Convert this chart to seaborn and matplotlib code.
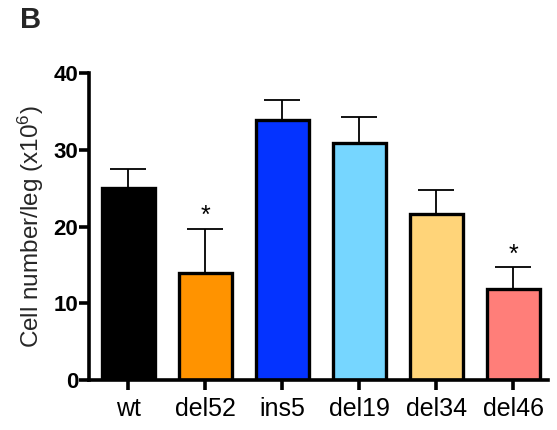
import numpy as np
import pandas as pd
import matplotlib
matplotlib.use("Agg")
import matplotlib.pyplot as plt
import seaborn as sns

# data
grupos = ["wt", "del52", "ins5", "del19", "del34", "del46"]
medias = [25.0, 13.9, 33.9, 30.9, 21.6, 11.9]
errores = [2.5, 5.8, 2.6, 3.4, 3.2, 2.8]
significativo = [False, True, False, False, False, True]
colores = ["#000000", "#FF9300", "#0433FF", "#76D6FF", "#FFD479", "#FF7E79"]

sns.set_style("ticks")
plt.rcParams["font.family"] = ["Liberation Sans", "DejaVu Sans"]
plt.rcParams["mathtext.default"] = "regular"

df = pd.DataFrame({"grupo": grupos, "media": medias})

fig = plt.figure(figsize=(5.57, 4.30), dpi=100)
ax = fig.add_axes([0.16, 0.116, 0.824, 0.714])

sns.barplot(data=df, x="grupo", y="media", hue="grupo", palette=colores,
            order=grupos, hue_order=grupos, legend=False, width=0.68,
            edgecolor="black", linewidth=2.4, saturation=1, ax=ax)

x = np.arange(len(grupos))
ax.errorbar(x, medias, yerr=[np.zeros(len(errores)), errores], fmt="none",
            ecolor="black", elinewidth=1.3, capsize=13, capthick=1.3, zorder=1)

for i, (m, e, s) in enumerate(zip(medias, errores, significativo)):
    if s:
        ax.text(i, m + e + 0.1, "*", ha="center", va="bottom",
                fontsize=18, color="black")

ax.set_xlim(-0.51, 5.45)
ax.set_ylim(0, 40)
ax.set_yticks([0, 10, 20, 30, 40])
ax.set_xlabel("")
ax.set_ylabel("Cell number/leg (x10$^{6}$)", fontsize=17.5, labelpad=5)

for lado in ["top", "right"]:
    ax.spines[lado].set_visible(False)
for lado in ["left", "bottom"]:
    ax.spines[lado].set_linewidth(2.6)
    ax.spines[lado].set_color("black")

ax.tick_params(axis="y", length=7, width=2.6, labelsize=16, pad=1, colors="black")
ax.tick_params(axis="x", length=7, width=2.6, labelsize=18, pad=5, colors="black")
for t in ax.get_yticklabels():
    t.set_fontweight("bold")

fig.text(0.036, 0.935, "B", fontsize=21, fontweight="bold", ha="left", va="baseline")

fig.savefig("out.png", dpi=100, facecolor="white")
